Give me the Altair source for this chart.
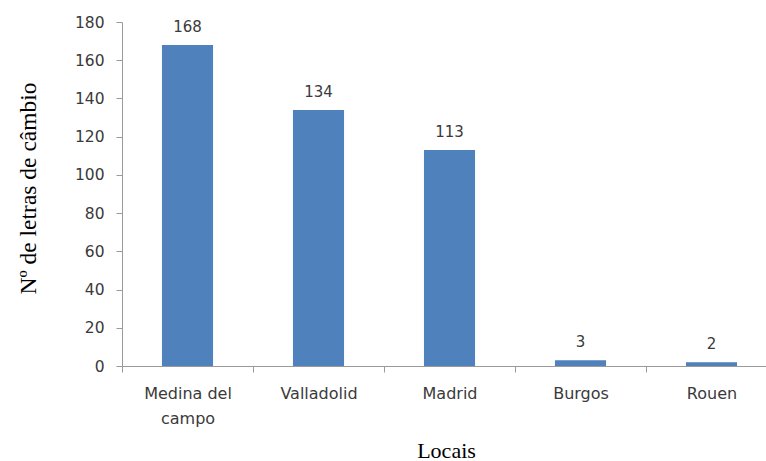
import altair as alt
import pandas as pd

# Letras de câmbio por local
locais = ["Medina del campo", "Valladolid", "Madrid", "Burgos", "Rouen"]
letras = [168, 134, 113, 3, 2]
y_ticks = [0, 20, 40, 60, 80, 100, 120, 140, 160, 180]

df = pd.DataFrame({"Local": locais, "Letras": letras})

LABEL_FONT = "DejaVu Sans"
TITLE_FONT = "Liberation Serif"
TEXT_COLOR = "#3a3a3a"
AXIS_COLOR = "#9a9a9a"
BAR_COLOR = "#4F81BD"

x_enc = alt.X(
    "Local:N",
    sort=locais,
    title="Locais",
    scale=alt.Scale(paddingInner=0, paddingOuter=0, range=[0, 655]),
    axis=alt.Axis(
        labelAngle=0,
        tickBand="extent",
        labelExpr="datum.label == 'Medina del campo' ? ['Medina del', 'campo'] : datum.label",
        labelFont=LABEL_FONT,
        labelFontSize=16,
        labelColor=TEXT_COLOR,
        labelLineHeight=25,
        labelPadding=13,
        labelBaseline="top",
        tickSize=6,
        tickColor=AXIS_COLOR,
        domainColor=AXIS_COLOR,
        titleFont=TITLE_FONT,
        titleFontSize=22,
        titleFontWeight="normal",
        titleColor="#000000",
        titleBaseline="alphabetic",
        titleX=324,
        titleY=91,
    ),
)

y_enc = alt.Y(
    "Letras:Q",
    title="Nº de letras de câmbio",
    scale=alt.Scale(domain=[0, 180], nice=False),
    axis=alt.Axis(
        values=y_ticks,
        grid=False,
        labelFont=LABEL_FONT,
        labelFontSize=15.5,
        labelColor=TEXT_COLOR,
        labelPadding=12,
        tickSize=6,
        tickColor=AXIS_COLOR,
        domainColor=AXIS_COLOR,
        titleFont=TITLE_FONT,
        titleFontSize=23.5,
        titleFontWeight="normal",
        titleColor="#000000",
        titleBaseline="alphabetic",
        titleAlign="center",
        titleX=-87,
        titleY=166,
    ),
)

base = alt.Chart(df).encode(x=x_enc, y=y_enc)

bars = base.mark_bar(color=BAR_COLOR, width={"band": 0.39})

labels = base.mark_text(
    font=LABEL_FONT,
    fontSize=15,
    color=TEXT_COLOR,
    baseline="alphabetic",
    dy=-13,
).encode(text="Letras:Q")

chart = (
    (bars + labels)
    .properties(
        width=644,
        height=344,
        autosize=alt.AutoSizeParams(type="none"),
        padding={"left": 122, "top": 22, "right": 0, "bottom": 95},
        background="white",
    )
    .configure_view(stroke=None)
)

chart.save("out.html", embed_options={"renderer": "svg", "actions": False})
